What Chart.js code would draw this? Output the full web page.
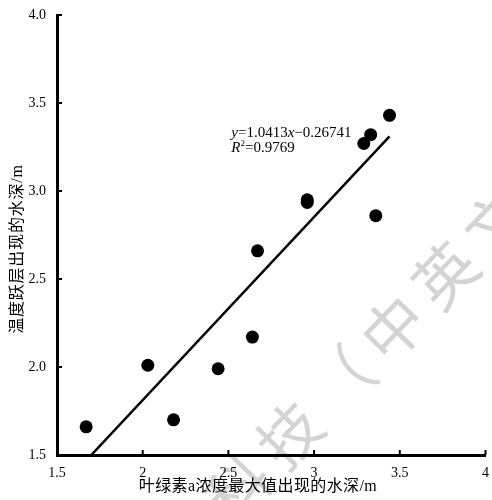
<!DOCTYPE html>
<html>
<head>
<meta charset="utf-8">
<title>温度跃层 vs 叶绿素a</title>
<script src="https://cdn.jsdelivr.net/npm/chart.js"></script>
<style>
  body { margin: 0; background: #fff; }
  #wrap { width: 492px; height: 500px; }
</style>
</head>
<body>
<div id="wrap"><canvas id="myChart" width="492" height="500"></canvas></div>
<script>
// values
const chlDepth = [1.67, 2.03, 2.18, 2.44, 2.64, 2.67, 2.96, 2.96, 3.29, 3.33, 3.36, 3.44];
const thermoDepth = [1.66, 2.01, 1.70, 1.99, 2.17, 2.66, 2.95, 2.935, 3.27, 3.32, 2.86, 3.43];

// fitted line, both ends as seen on the picture
const fitX = [1.70, 3.44];
const fitY = [1.50, 3.31];

const xTicks = [1.5, 2, 2.5, 3, 3.5, 4];
const yTicks = [1.5, 2.0, 2.5, 3.0, 3.5, 4.0];

const xTitle = "叶绿素a浓度最大值出现的水深/m";
const yTitle = "温度跃层出现的水深/m";
const eqLine1 = ["y", "=1.0413", "x", "\u22120.26741"];
const eqLine2 = ["R", "2", "=0.9769"];
const watermark = "科技（中英文";

const serif = "'Liberation Serif', 'Times New Roman', 'Noto Sans CJK SC', serif";

// faint watermark behind the plot
const watermarkPlugin = {
  id: "watermark",
  beforeDraw(chart) {
    const ctx = chart.ctx;
    ctx.save();
    ctx.fillStyle = "#d4d4d4";
    ctx.font = "62px 'Noto Sans CJK SC'";
    ctx.textAlign = "center";
    ctx.textBaseline = "middle";
    const a = -46 * Math.PI / 180;
    let cx = 238, cy = 488;
    for (const ch of watermark) {
      ctx.save();
      ctx.translate(cx, cy);
      ctx.rotate(a);
      ctx.fillText(ch, 0, 0);
      ctx.restore();
      cx += 51.7; cy -= 53.3;
    }
    ctx.restore();
  }
};

// short ticks pointing into the plot, axis titles and the regression label
const extrasPlugin = {
  id: "extras",
  afterDraw(chart) {
    const ctx = chart.ctx;
    const xs = chart.scales.x, ys = chart.scales.y;
    const area = chart.chartArea;
    ctx.save();
    ctx.strokeStyle = "#000";
    ctx.lineWidth = 2;
    ctx.beginPath();
    xTicks.forEach(v => {
      const px = xs.getPixelForValue(v);
      ctx.moveTo(px, area.bottom);
      ctx.lineTo(px, area.bottom - 5);
    });
    yTicks.forEach(v => {
      const py = ys.getPixelForValue(v);
      ctx.moveTo(area.left, py);
      ctx.lineTo(area.left + 5, py);
    });
    ctx.stroke();

    // axis titles
    ctx.fillStyle = "#000";
    ctx.font = "16px " + serif;
    ctx.textAlign = "center";
    ctx.textBaseline = "middle";
    ctx.letterSpacing = "0.4px";
    ctx.fillText(xTitle, 258, 487);
    ctx.save();
    ctx.translate(17.5, 249);
    ctx.rotate(-Math.PI / 2);
    ctx.letterSpacing = "0.8px";
    ctx.fillText(yTitle, 0, 0);
    ctx.restore();
    ctx.letterSpacing = "0px";

    // equation text
    ctx.textAlign = "left";
    ctx.textBaseline = "alphabetic";
    let x = xs.getPixelForValue(2.517);
    let y = ys.getPixelForValue(3.309);
    eqLine1.forEach((s, i) => {
      ctx.font = (i === 0 || i === 2 ? "italic " : "") + "15px " + serif;
      ctx.fillText(s, x, y);
      x += ctx.measureText(s).width;
    });
    x = xs.getPixelForValue(2.517);
    y = ys.getPixelForValue(3.224);
    ctx.font = "italic 15px " + serif;
    ctx.fillText(eqLine2[0], x, y);
    x += ctx.measureText(eqLine2[0]).width;
    ctx.font = "9px " + serif;
    ctx.fillText(eqLine2[1], x, y - 6);
    x += ctx.measureText(eqLine2[1]).width;
    ctx.font = "15px " + serif;
    ctx.fillText(eqLine2[2], x, y);
    ctx.restore();
  }
};

const ctx = document.getElementById("myChart").getContext("2d");
new Chart(ctx, {
  data: {
    datasets: [
      {
        type: "scatter",
        data: chlDepth.map((v, i) => ({ x: v, y: thermoDepth[i] })),
        backgroundColor: "#000",
        borderWidth: 0,
        pointRadius: 6.5
      },
      {
        type: "line",
        data: fitX.map((v, i) => ({ x: v, y: fitY[i] })),
        borderColor: "#000",
        borderWidth: 2.5,
        pointRadius: 0,
        fill: false
      }
    ]
  },
  options: {
    responsive: false,
    animation: false,
    layout: { padding: { top: 15, right: 4.5, left: 0, bottom: 0 } },
    plugins: {
      legend: { display: false },
      tooltip: { enabled: false }
    },
    scales: {
      x: {
        type: "linear",
        min: 1.5,
        max: 4,
        afterFit(scale) { scale.height = 45; },
        afterBuildTicks(scale) { scale.ticks = xTicks.map(v => ({ value: v })); },
        grid: { display: false },
        border: { display: true, color: "#000", width: 3 },
        ticks: {
          autoSkip: false,
          maxRotation: 0,
          padding: 2,
          color: "#000",
          font: { family: serif, size: 14 },
          callback: v => String(v)
        }
      },
      y: {
        type: "linear",
        min: 1.5,
        max: 4,
        afterFit(scale) { scale.width = 57; },
        afterBuildTicks(scale) { scale.ticks = yTicks.map(v => ({ value: v })); },
        grid: { display: false },
        border: { display: true, color: "#000", width: 3 },
        ticks: {
          autoSkip: false,
          padding: 3,
          color: "#000",
          font: { family: serif, size: 14 },
          callback: v => v.toFixed(1)
        }
      }
    }
  },
  plugins: [watermarkPlugin, extrasPlugin]
});
</script>
</body>
</html>
